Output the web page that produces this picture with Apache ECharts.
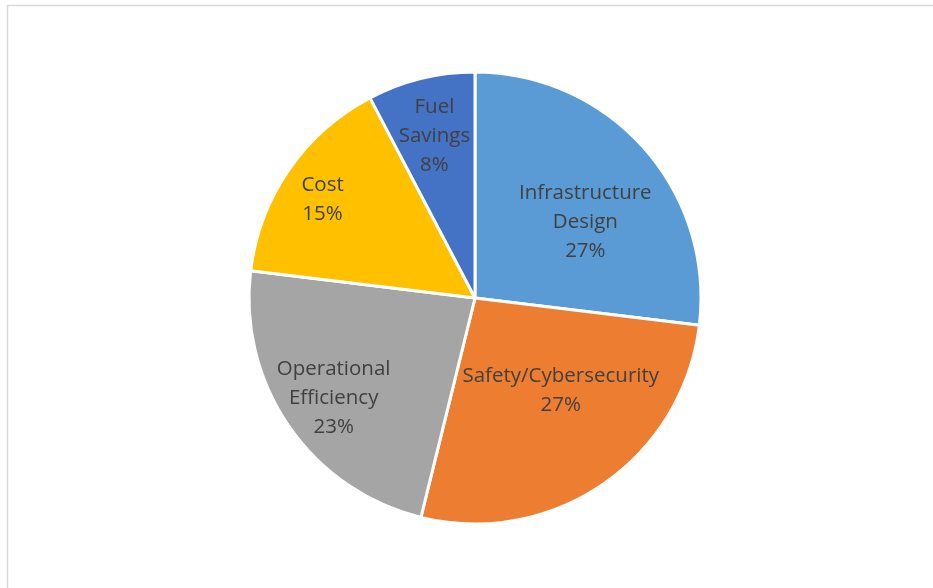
<!DOCTYPE html>
<html>
<head>
<meta charset="utf-8">
<script src="https://cdn.jsdelivr.net/npm/echarts@6/dist/echarts.min.js"></script>
<style>html,body{margin:0;padding:0;background:#fff;}#c{width:933px;height:588px;}</style>
</head>
<body>
<div id="c"></div>
<script>
const categories = ['Infrastructure\nDesign', 'Safety/Cybersecurity', 'Operational\nEfficiency', 'Cost', 'Fuel\nSavings'];
const values = [7, 7, 6, 4, 2];
const colors = ['#5B9BD5', '#ED7D31', '#A5A5A5', '#FFC000', '#4472C4'];

const CX = 475, CY = 298, R = 226;
// label placement: radius fraction and angle tweak (degrees)
const labelK = [0.60, 0.55, 0.76, 0.81, 0.75];
const labelDA = [6, -9, 0, -1, 0];
const labelDY = 3;

const total = values.reduce((a, b) => a + b, 0);
const mids = [];
let acc = 0;
values.forEach(v => { mids.push((acc + v / 2) / total * 360); acc += v; });

const chart = echarts.init(document.getElementById('c'));
chart.setOption({
  animation: false,
  backgroundColor: '#fff',
  graphic: [{
    type: 'rect',
    shape: { x: 7.5, y: 5.5, width: 1000, height: 700 },
    style: { fill: 'none', stroke: '#d9d9d9', lineWidth: 1.5 },
    silent: true
  }],
  series: [{
    type: 'pie',
    center: [CX, CY],
    radius: [0, R],
    startAngle: 90,
    clockwise: true,
    data: categories.map((n, i) => ({ name: n, value: values[i], itemStyle: { color: colors[i] } })),
    itemStyle: { borderColor: '#fff', borderWidth: 3 },
    label: {
      position: 'inside',
      formatter: p => p.name + '\n' + Math.round(p.percent) + '%',
      color: '#404040',
      fontFamily: 'Open Sans',
      fontSize: 20.5,
      lineHeight: 29,
      align: 'center'
    },
    labelLine: { show: false },
    labelLayout: function (p) {
      const i = p.dataIndex;
      const a = (mids[i] + labelDA[i]) * Math.PI / 180;
      return {
        x: CX + labelK[i] * R * Math.sin(a),
        y: CY - labelK[i] * R * Math.cos(a) + labelDY,
        align: 'center',
        verticalAlign: 'middle'
      };
    }
  }]
});
</script>
</body>
</html>
